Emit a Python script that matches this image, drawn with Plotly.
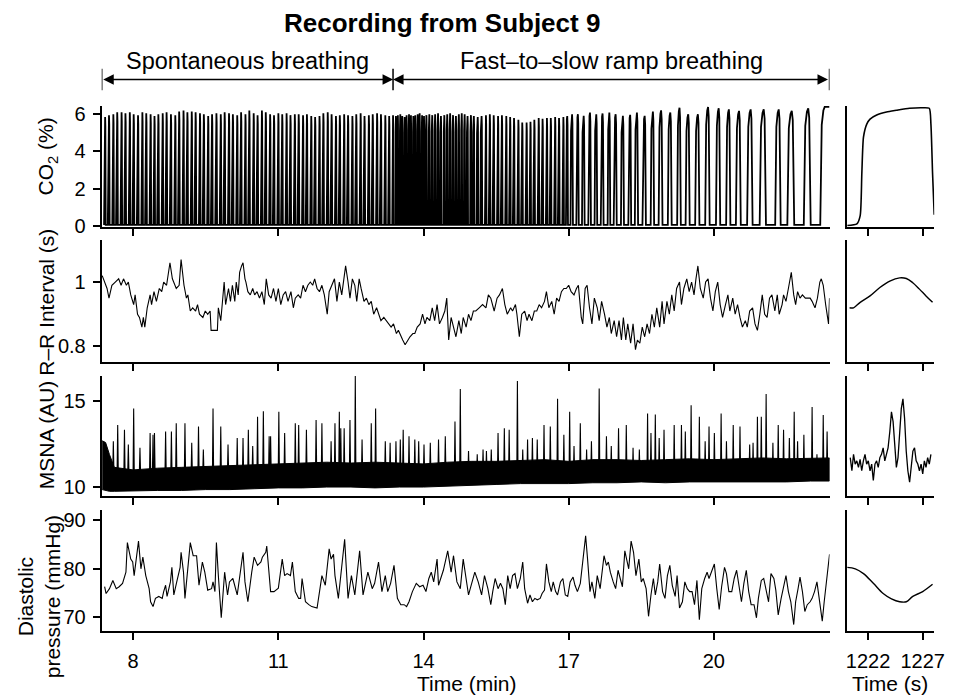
import plotly.graph_objects as go

FONT = "Liberation Sans, Arial, Helvetica, sans-serif"

# ---------------- CO2 (%) : breath peak times (min) and peak heights ----------------
CO2_SPONT_T = [7.42, 7.50, 7.59, 7.67, 7.76, 7.84, 7.93, 8.01, 8.10, 8.19, 8.27, 8.36, 8.44, 8.52,
               8.61, 8.69, 8.78, 8.87, 8.95, 9.04, 9.12, 9.21, 9.29, 9.38, 9.46, 9.55, 9.63, 9.72,
               9.81, 9.89, 9.98, 10.06, 10.15, 10.23, 10.32, 10.40, 10.49, 10.57, 10.66, 10.74,
               10.83, 10.91, 11.00, 11.08, 11.17, 11.25, 11.34, 11.42, 11.51, 11.59, 11.68, 11.76,
               11.85, 11.93, 12.02, 12.10, 12.19, 12.27, 12.36, 12.44, 12.53, 12.61, 12.70, 12.78,
               12.87, 12.95, 13.04, 13.12, 13.21, 13.29]
CO2_SPONT_V = [5.85, 5.95, 6.0, 6.1, 6.1, 6.05, 6.1, 6.0, 5.95, 6.1, 6.05, 6.0, 5.9, 6.0, 6.05, 6.1,
               6.0, 5.95, 6.15, 6.2, 6.1, 6.15, 6.1, 6.05, 6.0, 5.9, 6.0, 6.05, 6.0, 6.1, 6.05, 6.0,
               5.95, 6.1, 6.0, 6.2, 6.05, 5.95, 6.2, 6.1, 6.0, 5.95, 6.05, 6.0, 6.05, 5.95, 6.0, 6.0,
               5.95, 6.0, 5.9, 5.85, 5.9, 6.05, 6.1, 6.0, 5.9, 5.95, 6.0, 5.95, 5.9, 6.0, 6.05, 5.9,
               5.95, 6.0, 6.05, 6.0, 5.95, 5.9]
CO2_RAMP_T = [13.37, 13.43, 13.47, 13.52, 13.56, 13.61, 13.65, 13.70, 13.74, 13.79, 13.83, 13.88,
              13.92, 13.97, 14.01, 14.06,
              14.12, 14.18, 14.24, 14.30, 14.36, 14.43, 14.49, 14.55, 14.61, 14.67, 14.73, 14.79,
              14.85, 14.91, 14.98, 15.04,
              15.12, 15.20, 15.29, 15.37, 15.45, 15.54, 15.62, 15.71, 15.79, 15.87, 15.96, 16.04,
              16.13, 16.21, 16.29, 16.38, 16.46, 16.55, 16.63, 16.72, 16.80, 16.89, 16.97, 17.07,
              17.19, 17.31, 17.44, 17.57, 17.70, 17.84, 17.97, 18.12, 18.27, 18.41, 18.57, 18.74,
              18.91, 19.10, 19.29, 19.47, 19.67, 19.88, 20.10, 20.31, 20.52, 20.76, 21.03, 21.34,
              21.61, 21.95, 22.29]
CO2_RAMP_V = [5.95, 5.9, 5.95, 6.0, 5.9, 5.85, 5.95, 6.0, 5.95, 5.9, 5.95, 6.0, 6.05, 5.95, 5.9, 5.95,
              6.0, 5.95, 6.0, 6.05, 5.9, 5.95, 6.0, 6.05, 5.95, 5.9, 6.0, 6.05, 6.0, 5.9, 5.95, 5.9,
              5.85, 5.9, 5.95, 6.0, 5.95, 5.9, 5.95, 5.9, 5.85, 5.8, 5.7, 5.55, 5.55, 5.6, 5.7, 5.8,
              5.75, 5.8, 5.8, 5.85, 5.8, 5.85, 5.9, 6.0,
              6.0, 5.91, 6.09, 6.0, 6.04, 6.09, 6.0, 5.91, 5.97, 6.09, 5.91, 6.14, 6.21, 6.09, 6.35,
              6.0, 6.0, 6.39, 6.32, 6.26, 6.18, 6.26, 6.26, 6.26, 6.18, 6.32, 6.39]
RECORD_END = 22.39
CO2_ZOOM_T = [1220.08, 1220.98, 1221.28, 1221.43, 1221.58, 1221.88, 1222.18, 1222.79, 1223.69,
              1224.59, 1225.79, 1227.00, 1227.60, 1227.75, 1227.90, 1228.05]
CO2_ZOOM_V = [0.02, 0.11, 0.55, 2.83, 4.77, 5.47, 5.74, 5.96, 6.12, 6.21, 6.32, 6.35, 6.32, 5.47,
              2.83, 0.6]

# ---------------- R-R interval (s) ----------------
RR_T = [7.36, 7.46, 7.50, 7.56, 7.63, 7.70, 7.75, 7.80, 7.86, 7.90, 7.95, 8.01, 8.04, 8.09, 8.13,
        8.18, 8.21, 8.24, 8.29, 8.35, 8.38, 8.43, 8.48, 8.54, 8.59, 8.63, 8.69, 8.76, 8.81, 8.86,
        8.89, 8.95, 8.99, 9.05, 9.10, 9.13, 9.18, 9.23, 9.29, 9.33, 9.37, 9.44, 9.49, 9.54, 9.59,
        9.61, 9.74, 9.76, 9.81, 9.84, 9.88, 9.91, 9.97, 10.01, 10.05, 10.10, 10.13, 10.17, 10.20,
        10.24, 10.27, 10.31, 10.33, 10.37, 10.42, 10.47, 10.51, 10.56, 10.61, 10.66, 10.71, 10.75,
        10.80, 10.85, 10.90, 10.95, 11.00, 11.05, 11.10, 11.15, 11.20, 11.26, 11.31, 11.35, 11.41,
        11.46, 11.51, 11.56, 11.61, 11.66, 11.71, 11.75, 11.80, 11.85, 11.90, 11.95, 12.01, 12.05,
        12.10, 12.16, 12.21, 12.26, 12.31, 12.36, 12.39, 12.44, 12.48, 12.53, 12.58, 12.62, 12.67,
        12.71, 12.77, 12.82, 12.87, 12.92, 12.97, 13.03, 13.07, 13.12, 13.18, 13.23, 13.28, 13.33,
        13.38, 13.44, 13.48, 13.53, 13.57, 13.62, 13.67, 13.72, 13.78, 13.82, 13.87, 13.93, 13.98,
        14.03, 14.07, 14.13, 14.18, 14.23, 14.28, 14.33, 14.39, 14.44, 14.48, 14.52, 14.57, 14.62,
        14.67, 14.73, 14.78, 14.82, 14.88, 14.93, 14.98, 15.03, 15.08,
        15.15, 15.22, 15.29, 15.34, 15.39, 15.46, 15.52, 15.57, 15.63, 15.68, 15.73, 15.80, 15.84,
        15.90, 15.93, 15.98, 16.03, 16.09, 16.14, 16.18, 16.24, 16.29, 16.34, 16.39, 16.44, 16.50,
        16.54, 16.59, 16.65, 16.70, 16.75, 16.80, 16.85, 16.90, 16.95, 17.00, 17.05, 17.11, 17.16,
        17.20, 17.26, 17.29, 17.34, 17.38, 17.43, 17.48, 17.53, 17.59, 17.63, 17.68, 17.74, 17.79,
        17.84, 17.88, 17.94, 17.99, 18.04, 18.09, 18.13, 18.18, 18.22, 18.28, 18.33, 18.38, 18.42,
        18.47, 18.52, 18.57, 18.62, 18.67, 18.72, 18.77, 18.82, 18.88, 18.93, 18.97, 19.03, 19.08,
        19.13, 19.18, 19.23, 19.29, 19.33, 19.38, 19.44, 19.49, 19.54, 19.59, 19.63, 19.67, 19.72,
        19.78, 19.83, 19.88, 19.93, 19.98, 20.03, 20.08, 20.13, 20.18, 20.24, 20.29, 20.33, 20.39,
        20.44, 20.49, 20.54, 20.59, 20.65, 20.69, 20.74, 20.80, 20.85, 20.90, 20.95, 21.00, 21.05,
        21.10, 21.15, 21.20, 21.26, 21.31, 21.35, 21.41, 21.44, 21.49, 21.54, 21.60, 21.65, 21.69,
        21.73, 21.78, 21.83, 21.89, 21.94, 21.99, 22.03, 22.09, 22.14, 22.19, 22.22, 22.26, 22.31,
        22.35, 22.37, 22.39]
RR_V = [1.02, 0.98, 0.95, 0.99, 1.00, 1.01, 0.99, 1.01, 0.99, 1.00, 0.96, 0.93, 0.96, 0.90, 0.89,
        0.86, 0.89, 0.86, 0.92, 0.96, 0.93, 0.97, 0.94, 0.98, 0.97, 1.00, 0.99, 1.06, 1.01, 0.99,
        0.98, 0.99, 1.07, 0.99, 0.95, 0.96, 0.91, 0.92, 0.91, 0.93, 0.90, 0.89, 0.91, 0.90, 0.91,
        0.85, 0.85, 0.92, 0.88, 0.93, 1.00, 0.93, 0.98, 0.94, 0.99, 0.94, 1.00, 0.96, 1.03,
        1.05, 1.06, 1.01, 1.00, 0.97, 0.96, 0.98, 0.96, 0.97, 0.95, 0.97, 0.93, 1.01,
        0.96, 0.95, 0.98, 0.94, 0.98, 0.93, 0.96, 0.97, 0.94, 0.97, 0.92, 0.95, 0.96,
        0.95, 0.99, 0.97, 0.99, 1.00, 0.99, 1.01, 0.98, 0.97, 0.99, 0.96, 0.90, 0.97,
        0.99, 1.01, 0.94, 1.00, 0.96, 1.02, 1.05, 1.00, 0.95, 1.01, 0.99, 0.94, 1.01,
        0.98, 0.94, 0.95, 0.93, 0.94, 0.90, 0.92, 0.90, 0.88, 0.89, 0.88, 0.87, 0.86,
        0.87, 0.84, 0.85, 0.83, 0.82, 0.805, 0.82, 0.83, 0.84, 0.84, 0.86, 0.87, 0.90,
        0.87, 0.89, 0.88, 0.92, 0.88, 0.93, 0.87, 0.89, 0.91, 0.95, 0.82, 0.89, 0.86,
        0.83, 0.88, 0.84, 0.89, 0.86, 0.90, 0.88, 0.91, 0.91,
        0.92, 0.93, 0.92, 0.96, 0.95, 0.91, 0.95, 0.96, 0.98, 0.93, 0.90, 0.92, 0.91,
        0.93, 0.90, 0.83, 0.90, 0.91, 0.88, 0.90, 0.88, 0.91, 0.91, 0.93, 0.92, 0.94,
        0.97, 0.92, 0.94, 0.90, 0.95, 0.94, 0.97, 0.98, 0.98, 0.99, 0.97, 0.96, 0.98,
        0.99, 0.89, 0.87, 0.98, 0.99, 0.92, 0.87, 0.95, 0.92, 0.88, 0.94, 0.90, 0.86,
        0.89, 0.84, 0.88, 0.83, 0.88, 0.82, 0.89, 0.82, 0.87, 0.81, 0.87, 0.79, 0.82,
        0.81, 0.86, 0.83, 0.87, 0.84, 0.90, 0.86, 0.92, 0.86, 0.94, 0.87, 0.94, 0.90,
        0.96, 0.91, 0.98, 1.00, 0.93, 0.98, 1.01, 0.97, 1.00, 0.96, 1.01, 1.05, 0.98,
        0.95, 1.00, 1.01, 0.95, 0.91, 0.97, 1.00, 0.93, 0.89, 0.93, 0.96, 0.91, 0.95,
        0.90, 0.93, 0.89, 0.86, 0.88, 0.86, 0.91, 0.92, 0.87, 0.85, 0.90, 0.96, 0.90,
        0.89, 0.95, 0.96, 0.91, 0.96, 0.90, 0.93, 0.96, 0.94, 0.98, 1.03, 0.96, 0.93,
        0.97, 0.95, 0.96, 0.95, 0.95, 0.95, 0.94, 0.92, 0.95, 1.00, 1.01, 0.99, 0.93,
        0.88, 0.87, 0.95]
RR_ZOOM_T = [1220.31, 1220.67, 1221.28, 1222.18, 1223.08, 1223.99, 1224.89, 1225.50, 1226.09,
             1226.70, 1227.30, 1227.90]
RR_ZOOM_V = [0.92, 0.92, 0.937, 0.957, 0.983, 1.003, 1.013, 1.011, 0.998, 0.978, 0.957, 0.937]

# ---------------- MSNA (AU): dense activity band and burst peaks ----------------
MSNA_BAND_T = [7.36, 7.43, 7.51, 7.61, 8.0, 8.5, 9.0, 9.5, 10.0, 10.5, 11.0, 11.5, 12.0, 12.5,
               13.0, 13.5, 14.0, 14.5, 15.0, 15.5, 16.0, 16.5, 17.0, 17.5, 18.0, 18.5, 19.0,
               19.5, 20.0, 20.5, 21.0, 21.5, 22.0, 22.39]
MSNA_BAND_HI = [12.7, 12.6, 11.9, 11.15, 11.0, 11.1, 11.15, 11.2, 11.25, 11.3, 11.35, 11.4, 11.45,
                11.4, 11.45, 11.4, 11.35, 11.45, 11.5, 11.5, 11.55, 11.6, 11.5, 11.6, 11.6, 11.55,
                11.6, 11.65, 11.6, 11.65, 11.7, 11.65, 11.7, 11.7]
MSNA_BAND_LO = [9.85, 9.8, 9.75, 9.75, 9.75, 9.8, 9.8, 9.85, 9.85, 9.9, 9.95, 9.95, 10.0, 10.0,
                9.95, 10.0, 10.0, 10.05, 10.1, 10.15, 10.2, 10.2, 10.2, 10.25, 10.25, 10.3, 10.25,
                10.3, 10.3, 10.3, 10.3, 10.3, 10.35, 10.35]
MSNA_SPIKE_T = [7.59, 7.68, 7.82, 7.90, 8.01, 8.14, 8.35, 8.41, 8.44, 8.67, 8.79, 8.89, 9.07, 9.21,
                9.35, 9.45, 9.65, 9.81, 9.96, 10.15, 10.27, 10.38, 10.47, 10.57, 10.69, 10.81,
                10.84, 11.01, 11.13, 11.35, 11.42, 11.58, 11.78, 11.90, 12.09, 12.17, 12.26, 12.29,
                12.36, 12.48, 12.59, 12.73, 12.92, 13.01, 13.21, 13.31, 13.43, 13.52, 13.58, 13.70,
                13.82, 13.90, 14.01, 14.14, 14.31, 14.45, 14.65, 14.76, 14.93,
                15.11, 15.23, 15.30, 15.40, 15.54, 15.67, 15.77, 15.94, 16.05, 16.15, 16.25, 16.35,
                16.49, 16.62, 16.77, 16.90, 17.02, 17.11, 17.24, 17.37, 17.47, 17.63, 17.78, 17.88,
                18.03, 18.19, 18.33, 18.46, 18.63, 18.70, 18.79, 18.87, 18.97, 19.18, 19.33, 19.41,
                19.53, 19.70, 19.82, 19.90, 20.01, 20.15, 20.26, 20.40, 20.54, 20.74, 20.81, 20.90,
                20.98, 21.08, 21.22, 21.33, 21.44, 21.56, 21.66, 21.73, 21.86, 22.03, 22.13, 22.26,
                22.34]
MSNA_SPIKE_V = [12.67, 13.63, 13.34, 12.48, 14.58, 12.29, 13.15, 13.05, 13.15, 13.24, 13.24, 13.72,
                13.72, 12.58, 13.53, 12.19, 14.58, 13.53, 12.48, 12.86, 12.86, 13.34, 12.39, 14.10,
                14.43, 12.96, 12.96, 14.39, 13.15, 13.72, 13.63, 13.34, 13.91, 13.72, 12.67, 13.72,
                14.39, 13.44, 13.44, 13.91, 16.49, 12.77, 13.72, 14.58, 12.67, 12.58, 12.67, 12.77,
                13.34, 12.96, 12.77, 12.67, 12.48, 12.58, 12.77, 12.96, 13.82, 15.73, 12.10,
                11.91, 12.19, 12.10, 12.19, 13.15, 13.44, 13.34, 16.20, 12.19, 12.77, 12.86, 12.77,
                13.63, 13.53, 15.15, 13.05, 14.39, 12.39, 13.72, 12.19, 12.67, 15.76, 12.96, 12.39,
                13.44, 13.63, 12.29, 12.19, 14.29, 13.15, 14.24, 12.86, 13.34, 13.63, 13.63, 13.24,
                14.77, 14.10, 12.67, 13.53, 13.15, 14.29, 12.67, 13.63, 13.53, 12.48, 12.58, 14.10,
                14.10, 15.44, 12.58, 13.63, 13.34, 12.86, 14.39, 12.67, 13.05, 14.68, 11.91, 14.20,
                13.24]
MSNA_ZOOM_T = [1220.37, 1220.52, 1220.67, 1220.82, 1220.97, 1221.12, 1221.27, 1221.42, 1221.57,
               1221.72, 1221.87, 1222.02, 1222.18, 1222.33, 1222.48, 1222.63, 1222.78, 1222.93,
               1223.08, 1223.23, 1223.38, 1223.53, 1223.68, 1223.83, 1223.99, 1224.14, 1224.29,
               1224.44, 1224.59, 1224.74, 1224.89, 1225.04, 1225.19, 1225.34, 1225.49, 1225.64,
               1225.80, 1225.95, 1226.10, 1226.25, 1226.40, 1226.55, 1226.70, 1226.85, 1227.00,
               1227.15, 1227.30, 1227.45, 1227.60, 1227.75]
MSNA_ZOOM_V = [11.72, 10.95, 11.91, 11.34, 11.53, 11.15, 11.62, 10.95, 11.53, 11.91, 11.34, 11.53,
               10.95, 11.34, 10.38, 11.34, 11.53, 11.15, 11.72, 11.91, 12.29, 11.53, 11.91, 12.29,
               13.24, 14.39, 13.82, 12.48, 11.15, 11.72, 13.24, 14.58, 15.15, 14.01, 12.10, 10.95,
               10.29, 11.15, 12.10, 12.29, 11.53, 11.34, 10.95, 11.34, 10.76, 11.53, 11.15, 11.72,
               11.34, 11.91]

# ---------------- Diastolic pressure (mmHg) ----------------
DIA_T = [7.41, 7.44, 7.51, 7.58, 7.65, 7.71, 7.78, 7.85, 7.88, 7.95, 7.99, 8.02, 8.11, 8.16, 8.20,
         8.26, 8.33, 8.36, 8.41, 8.46, 8.53, 8.60, 8.63, 8.67, 8.70, 8.77, 8.80, 8.84, 8.90, 8.97,
         8.99, 9.04, 9.07, 9.11, 9.14, 9.18, 9.24, 9.31, 9.36, 9.43, 9.48, 9.54, 9.62, 9.65, 9.69,
         9.72, 9.76, 9.82, 9.89, 9.95, 9.99, 10.06, 10.15, 10.27, 10.31, 10.37, 10.45, 10.50,
         10.57, 10.64, 10.67, 10.74, 10.76, 10.84, 10.91, 11.00, 11.08, 11.13, 11.18, 11.25, 11.29,
         11.35, 11.42, 11.46, 11.49, 11.56, 11.63, 11.69, 11.80, 11.86, 11.90, 11.97, 12.05, 12.09,
         12.14, 12.17, 12.24, 12.37, 12.44, 12.51, 12.58, 12.68, 12.75, 12.85, 12.94, 12.99, 13.07,
         13.14, 13.21, 13.26, 13.32, 13.39, 13.46, 13.53, 13.60, 13.65, 13.70, 13.77, 13.85, 13.92,
         13.99, 14.05, 14.11, 14.16, 14.21, 14.28, 14.31, 14.41, 14.50, 14.57, 14.62, 14.69, 14.76,
         14.82, 14.93, 15.06,
         15.13, 15.20, 15.26, 15.33, 15.39, 15.43, 15.48, 15.54, 15.59, 15.64, 15.69, 15.74, 15.79,
         15.84, 15.89, 15.94, 16.00, 16.05, 16.09, 16.15, 16.20, 16.25, 16.30, 16.35, 16.41, 16.45,
         16.50, 16.54, 16.59, 16.64, 16.68, 16.73, 16.77, 16.83, 16.88, 16.93, 16.98, 17.03, 17.09,
         17.13, 17.18, 17.24, 17.29, 17.35, 17.39, 17.44, 17.48, 17.54, 17.59, 17.65, 17.73, 17.78,
         17.82, 17.86, 17.92, 17.97, 18.02, 18.07, 18.11, 18.16, 18.20, 18.24, 18.29, 18.34, 18.39,
         18.45, 18.50, 18.54, 18.60, 18.65, 18.70, 18.75, 18.79, 18.84, 18.88, 18.94, 18.99, 19.04,
         19.09, 19.14, 19.20, 19.24, 19.29, 19.35, 19.40, 19.45, 19.50, 19.55, 19.60, 19.65, 19.70,
         19.75, 19.81, 19.86, 19.90, 19.96, 20.01, 20.06, 20.11, 20.16, 20.22, 20.26, 20.31, 20.37,
         20.42, 20.47, 20.52, 20.57, 20.62, 20.67, 20.72, 20.77, 20.83, 20.88, 20.92, 20.98, 21.03,
         21.08, 21.13, 21.18, 21.24, 21.28, 21.33, 21.39, 21.44, 21.49, 21.54, 21.59, 21.65, 21.69,
         21.74, 21.78, 21.83, 21.88, 21.93, 21.99, 22.03, 22.08, 22.13, 22.19, 22.24, 22.28, 22.34,
         22.39]
DIA_V = [76.3, 74.9, 75.9, 77.6, 75.9, 76.3, 77.0, 79.3, 85.4, 82.0, 81.4, 78.6, 85.7, 80.0, 82.4,
         78.6, 75.9, 73.2, 72.2, 73.9, 74.3, 73.9, 75.3, 76.6, 74.3, 77.3, 80.3, 74.6, 77.3, 80.3,
         83.4, 79.3, 73.9, 78.0, 80.7, 85.4, 82.7, 82.7, 76.6, 81.4, 79.3, 75.6, 75.9, 77.3, 75.3,
         85.4, 78.6, 69.9, 79.3, 74.6, 77.3, 78.0, 74.6, 83.4, 77.3, 73.2, 79.3, 82.4,
         80.7, 81.4, 82.4, 83.4, 84.7, 75.3, 75.3, 76.0, 82.0, 78.6, 79.0, 78.6, 81.4,
         75.3, 73.9, 73.9, 78.0, 73.2, 72.6, 72.2, 71.9, 76.6, 78.6, 76.6, 84.1, 82.0,
         83.0, 78.6, 73.9, 86.1, 73.9, 78.6, 74.6, 83.7, 74.6, 79.3, 75.9, 77.0, 81.4,
         75.3, 78.6, 75.3, 77.0, 80.7, 73.9, 72.6, 72.6, 72.2, 73.2, 75.3, 77.0, 76.3,
         76.6, 75.3, 78.0, 79.3, 77.3, 82.0, 76.6, 79.7, 83.7, 79.3, 82.7, 77.3, 75.9,
         82.0, 74.6, 79.3,
         77.3, 74.6, 78.6, 75.9, 72.6, 75.3, 78.0, 75.9, 77.0, 75.9, 72.6, 78.6, 75.9,
         78.6, 79.0, 75.9, 78.0, 81.4, 75.9, 72.9, 74.6, 73.2, 73.9, 73.6, 73.9, 74.9,
         75.6, 81.0, 77.3, 75.3, 77.3, 75.3, 74.6, 77.3, 78.0, 74.6, 74.3, 77.3, 78.3,
         76.6, 75.3, 77.0, 81.4, 86.8, 82.0, 75.3, 77.3, 73.9, 78.6, 75.9, 82.7, 80.7,
         81.4, 79.3, 77.3, 75.9, 79.7, 78.0, 76.3, 83.7, 82.0, 80.0, 85.7, 83.4, 78.6,
         82.0, 77.3, 78.0, 75.9, 70.2, 74.6, 78.0, 74.6, 77.3, 81.0, 75.3, 73.9, 78.6,
         80.7, 76.6, 74.3, 78.6, 71.9, 73.2, 77.3, 75.9, 75.3, 75.3, 72.6, 77.6, 69.5,
         75.9, 78.0, 79.3, 78.0, 79.7, 81.0, 75.9, 71.6, 76.3, 80.3, 79.0, 75.3, 75.3,
         78.0, 79.7, 76.6, 73.2, 77.0, 79.7, 75.3, 72.6, 72.6, 69.9, 73.9, 77.6, 78.0,
         75.3, 73.2, 79.0, 78.0, 75.6, 70.5, 73.9, 76.6, 78.6, 75.3, 73.2, 68.5, 73.2,
         75.9, 78.3, 75.3, 71.2, 72.6, 73.2, 73.9, 75.3, 77.3, 73.2, 69.2, 73.2, 78.6,
         83.0]
DIA_ZOOM_T = [1220.08, 1220.83, 1221.58, 1222.48, 1223.38, 1224.14, 1224.89, 1225.50, 1226.09,
              1227.00, 1227.90]
DIA_ZOOM_V = [80.3, 80.0, 79.0, 77.0, 74.9, 73.8, 73.2, 73.2, 74.3, 75.3, 76.8]

# ---------------- axes / labels ----------------
MAIN_RANGE = [7.35, 22.39]
ZOOM_RANGE = [1220.1, 1228.05]
MAIN_TICKS = [8, 11, 14, 17, 20]
ZOOM_TICKS = [1222, 1227]
PHASE_EDGES = [7.35, 13.37, 22.39]
PHASE_LABELS = ["Spontaneous breathing", "Fast–to–slow ramp breathing"]
Y_RANGES = [[-0.05, 6.44], [0.752, 1.13], [9.48, 16.49], [67.16, 92.15]]
Y_TICKS = [[0, 2, 4, 6], [0.8, 1], [10, 15], [70, 80, 90]]
Y_TICKTEXT = [["0", "2", "4", "6"], ["0.8", "1"], ["10", "15"], ["70", "80", "90"]]
Y_TITLES = ["CO<sub>2</sub> (%)", "R–R Interval (s)", "MSNA (AU)", "Diastolic<br>pressure (mmHg)"]

W, H = 961, 697
ROW_PX = [(105, 228), (241.7, 365.7), (380, 502.3), (516.5, 640)]
MAIN_PX = (102, 839)
ZOOM_PX = (857, 945)
TITLE_Y_PX = [156, 305, 440, 605]
TITLE_X_PX = [47, 46, 46, 38]
XTITLE_Y_PX = 693


def px_x(a, b):
    return [a / W, b / W]


def px_y(top, bottom):
    return [1 - bottom / H, 1 - top / H]


def co2_wave(peaks_t, peaks_v, end_t):
    xs, ys = [], []
    n = len(peaks_t)
    for i in range(n):
        tp, p = peaks_t[i], peaks_v[i]
        T = (peaks_t[i + 1] - tp) if i < n - 1 else (tp - peaks_t[i - 1])
        xs += [tp - 0.27 * T, tp - 0.18 * T, tp - 0.08 * T, tp]
        ys += [0.05, 0.85 * p, 0.97 * p, p]
        if i < n - 1:
            xs += [tp + 0.06 * T, tp + 0.15 * T]
            ys += [0.92 * p, 0.05]
        else:
            xs.append(end_t)
            ys.append(p)
    return xs, ys


fig = go.Figure()

co2_x, co2_y = co2_wave(CO2_SPONT_T + CO2_RAMP_T, CO2_SPONT_V + CO2_RAMP_V, RECORD_END)
fig.add_trace(go.Scatter(x=co2_x, y=co2_y, mode="lines", line=dict(color="black", width=1.8),
                         xaxis="x", yaxis="y", hoverinfo="skip"))
fig.add_trace(go.Scatter(x=CO2_ZOOM_T, y=CO2_ZOOM_V, mode="lines",
                         line=dict(color="black", width=1.6, shape="spline", smoothing=0.6),
                         xaxis="x2", yaxis="y2", hoverinfo="skip"))

fig.add_trace(go.Scatter(x=RR_T, y=RR_V, mode="lines", line=dict(color="black", width=1.1),
                         xaxis="x3", yaxis="y3", hoverinfo="skip"))
fig.add_trace(go.Scatter(x=RR_ZOOM_T, y=RR_ZOOM_V, mode="lines",
                         line=dict(color="black", width=1.4, shape="spline"),
                         xaxis="x4", yaxis="y4", hoverinfo="skip"))

band_x = MSNA_BAND_T + MSNA_BAND_T[::-1]
band_y = MSNA_BAND_HI + MSNA_BAND_LO[::-1]
fig.add_trace(go.Scatter(x=band_x, y=band_y, mode="lines", fill="toself", fillcolor="black",
                         line=dict(color="black", width=1), xaxis="x5", yaxis="y5",
                         hoverinfo="skip"))
sx, sy = [], []
for t, v in zip(MSNA_SPIKE_T, MSNA_SPIKE_V):
    sx += [t - 0.012, t, t + 0.012, None]
    sy += [10.9, v, 10.9, None]
fig.add_trace(go.Scatter(x=sx, y=sy, mode="lines", line=dict(color="black", width=1.1),
                         xaxis="x5", yaxis="y5", hoverinfo="skip"))
fig.add_trace(go.Scatter(x=MSNA_ZOOM_T, y=MSNA_ZOOM_V, mode="lines",
                         line=dict(color="black", width=1.3), xaxis="x6", yaxis="y6",
                         hoverinfo="skip"))

fig.add_trace(go.Scatter(x=DIA_T, y=DIA_V, mode="lines", line=dict(color="black", width=1.1),
                         xaxis="x7", yaxis="y7", hoverinfo="skip"))
fig.add_trace(go.Scatter(x=DIA_ZOOM_T, y=DIA_ZOOM_V, mode="lines",
                         line=dict(color="black", width=1.4, shape="spline"),
                         xaxis="x8", yaxis="y8", hoverinfo="skip"))

tickfont = dict(family=FONT, size=20, color="black")
base = dict(showline=True, linecolor="black", linewidth=2, showgrid=False, zeroline=False,
            tickcolor="black", tickwidth=2, ticklen=7, tickfont=tickfont)

layout = {}
for r in range(4):
    ymain = 2 * r + 1
    yzoom = 2 * r + 2
    last = (r == 3)
    dom_y = px_y(*ROW_PX[r])
    sfx = str(ymain) if ymain > 1 else ""
    layout[f"xaxis{sfx}"] = dict(
        base, domain=px_x(*MAIN_PX), range=MAIN_RANGE, anchor=f"y{sfx}",
        ticks="outside", tickvals=MAIN_TICKS, showticklabels=last, ticklabelstandoff=4)
    layout[f"yaxis{sfx}"] = dict(
        base, domain=dom_y, range=Y_RANGES[r], anchor=f"x{sfx}",
        ticks="outside", tickvals=Y_TICKS[r], ticktext=Y_TICKTEXT[r], ticklabelstandoff=3)
    layout[f"xaxis{yzoom}"] = dict(
        base, domain=px_x(*ZOOM_PX), range=ZOOM_RANGE, anchor=f"y{yzoom}",
        ticks="outside", tickvals=ZOOM_TICKS, showticklabels=last, ticklabelstandoff=4)
    layout[f"yaxis{yzoom}"] = dict(
        base, domain=dom_y, range=Y_RANGES[r], anchor=f"x{yzoom}", ticks="",
        showticklabels=False)


def text_ann(text, x, y, size, xref="paper", angle=0):
    return dict(text=text, x=x, y=y, xref=xref, yref="paper", showarrow=False,
                xanchor="center", yanchor="middle", textangle=angle,
                font=dict(family=FONT, size=size, color="black"))


annotations = [
    text_ann("<b>Recording from Subject 9</b>", 447 / W, 1 - 20 / H, 26),
    text_ann(PHASE_LABELS[0], (PHASE_EDGES[0] + PHASE_EDGES[1]) / 2, 1 - 59 / H, 23.5, xref="x"),
    text_ann(PHASE_LABELS[1], (PHASE_EDGES[1] + PHASE_EDGES[2]) / 2, 1 - 59 / H, 23.5, xref="x"),
    text_ann("Time (min)", 472 / W, 1 - XTITLE_Y_PX / H, 21),
    text_ann("Time (s)", 900 / W, 1 - XTITLE_Y_PX / H, 21),
]
for r in range(4):
    annotations.append(text_ann(Y_TITLES[r], TITLE_X_PX[r] / W, 1 - TITLE_Y_PX[r] / H, 21,
                                angle=-90))
for tail in (PHASE_EDGES[0], PHASE_EDGES[2]):
    annotations.append(dict(text="", x=PHASE_EDGES[1], y=1 - 78 / H, xref="x", yref="paper",
                            ax=tail, ay=0, axref="x", ayref="pixel", showarrow=True,
                            arrowside="end+start", arrowhead=2, startarrowhead=2,
                            arrowsize=1.4, startarrowsize=1.4, arrowwidth=1.5,
                            arrowcolor="black", standoff=0, startstandoff=0))

shapes = [dict(type="line", xref="x", yref="paper", x0=e, x1=e, y0=1 - 89 / H, y1=1 - 67 / H,
               line=dict(color="black", width=1.5)) for e in PHASE_EDGES]

fig.update_layout(**layout)
fig.update_layout(width=W, height=H, margin=dict(l=0, r=0, t=0, b=0), showlegend=False,
                  plot_bgcolor="white", paper_bgcolor="white", annotations=annotations,
                  shapes=shapes, font=dict(family=FONT, color="black"))

fig.write_html("out.html")
